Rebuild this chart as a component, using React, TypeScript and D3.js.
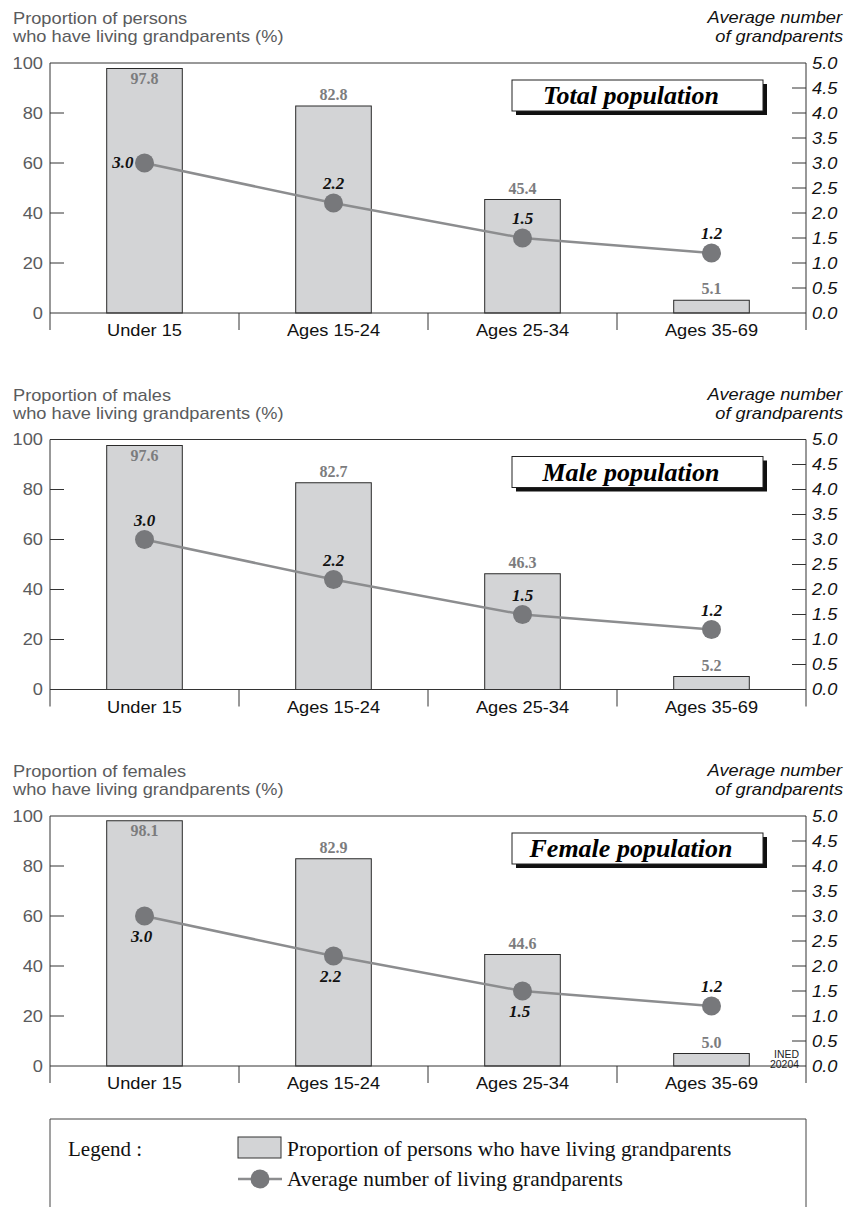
import * as d3 from "d3";

const categories = ["Under 15", "Ages 15-24", "Ages 25-34", "Ages 35-69"];

const totalShare = [97.8, 82.8, 45.4, 5.1];
const totalAvg = [3.0, 2.2, 1.5, 1.2];
const maleShare = [97.6, 82.7, 46.3, 5.2];
const maleAvg = [3.0, 2.2, 1.5, 1.2];
const femaleShare = [98.1, 82.9, 44.6, 5.0];
const femaleAvg = [3.0, 2.2, 1.5, 1.2];

const leftTicks = [0, 20, 40, 60, 80, 100];
const rightTicks = [0, 0.5, 1.0, 1.5, 2.0, 2.5, 3.0, 3.5, 4.0, 4.5, 5.0];

const panelNames = ["Total population", "Male population", "Female population"];
const leftTitles = ["Proportion of persons", "Proportion of males", "Proportion of females"];

const panels = [
  { name: panelNames[0], title: leftTitles[0], share: totalShare, avg: totalAvg, pos: ["left", "above", "above", "above"] },
  { name: panelNames[1], title: leftTitles[1], share: maleShare, avg: maleAvg, pos: ["above", "above", "above", "above"] },
  { name: panelNames[2], title: leftTitles[2], share: femaleShare, avg: femaleAvg, pos: ["below", "below", "below", "above"] },
];

const W = 845;
const H = 1207;
const left = 50;
const right = 806;
const sans = "'Liberation Sans', Arial, Helvetica, sans-serif";
const serif = "'Liberation Serif', 'Times New Roman', Times, serif";

const barFill = "#d3d4d6";
const dotFill = "#77787b";
const lineColor = "#8c8d8f";
const grayText = "#5a5b5d";

// stretched sans text like the original
function SText(props: any) {
  const { x, y, anchor = "start", size = 16, italic = false, fill = "#222", sx = 1.14, children } = props;
  return (
    <text
      transform={`translate(${x},${y}) scale(${sx},1)`}
      textAnchor={anchor}
      fontFamily={sans}
      fontSize={size}
      fontStyle={italic ? "italic" : "normal"}
      fill={fill}
    >
      {children}
    </text>
  );
}

function Panel({ p, offset, last }: { p: any; offset: number; last: boolean }) {
  const top = 63 + offset;
  const bottom = 313 + offset;
  const x = d3.scaleBand<string>().domain(categories).range([left, right]).padding(0);
  const y = d3.scaleLinear().domain([0, 100]).range([bottom, top]);
  const y2 = d3.scaleLinear().domain([0, 5]).range([bottom, top]);
  const bw = x.bandwidth() * 0.4;
  const cx = (c: string) => (x(c) as number) + x.bandwidth() / 2;
  const line = d3
    .line<number>()
    .x((_, i) => cx(categories[i]))
    .y((d) => y2(d));

  return (
    <g>
      {/* axis titles */}
      <SText x={13} y={offset + 24} fill={grayText}>{p.title}</SText>
      <SText x={13} y={offset + 42} fill={grayText}>who have living grandparents (%)</SText>
      <SText x={842} y={offset + 23} anchor="end" italic fill="#111">Average number</SText>
      <SText x={843} y={offset + 42} anchor="end" italic fill="#111">of grandparents</SText>

      {/* frame */}
      <line x1={left} x2={right} y1={top} y2={top} stroke="#333" strokeWidth={1} />
      <line x1={left} x2={left} y1={top} y2={bottom + 17} stroke="#333" strokeWidth={1} />
      <line x1={right} x2={right} y1={top} y2={bottom + 17} stroke="#333" strokeWidth={1} />

      {/* left ticks */}
      {leftTicks.map((t) => (
        <g key={"l" + t}>
          {t > 0 && t < 100 && (
            <line x1={left} x2={left + 14} y1={y(t)} y2={y(t)} stroke="#333" strokeWidth={1} />
          )}
          <SText x={43} y={y(t) + 5.5} anchor="end" fill={grayText}>{t}</SText>
        </g>
      ))}

      {/* right ticks */}
      {rightTicks.map((t) => (
        <g key={"r" + t}>
          {t > 0 && t < 5 && (
            <line x1={right - 14} x2={right} y1={y2(t)} y2={y2(t)} stroke="#333" strokeWidth={1} />
          )}
          <SText x={812} y={y2(t) + 5.5} italic fill="#111">{t.toFixed(1)}</SText>
        </g>
      ))}

      {/* bars */}
      {p.share.map((v: number, i: number) => {
        const c = categories[i];
        const inside = v > 95;
        return (
          <g key={"b" + i}>
            <rect
              x={cx(c) - bw / 2}
              y={y(v)}
              width={bw}
              height={bottom - y(v)}
              fill={barFill}
              stroke="#2a2a2a"
              strokeWidth={1}
            />
            <text
              x={cx(c)}
              y={inside ? y(v) + 15 : y(v) - 6}
              textAnchor="middle"
              fontFamily={serif}
              fontWeight="bold"
              fontSize={16}
              fill="#7c7c7e"
            >
              {v.toFixed(1)}
            </text>
          </g>
        );
      })}

      {/* x axis */}
      <line x1={left} x2={right} y1={bottom} y2={bottom} stroke="#333" strokeWidth={1} />
      {x.domain().slice(1).map((c) => (
        <line key={"s" + c} x1={x(c)} x2={x(c)} y1={bottom} y2={bottom + 17} stroke="#333" strokeWidth={1} />
      ))}
      {categories.map((c) => (
        <SText key={"c" + c} x={cx(c)} y={bottom + 23} anchor="middle" fill="#111">{c}</SText>
      ))}

      {/* line + dots */}
      <path d={line(p.avg) || ""} fill="none" stroke={lineColor} strokeWidth={2.5} />
      {p.avg.map((v: number, i: number) => {
        const px = cx(categories[i]);
        const py = y2(v);
        const pos = p.pos[i];
        let lx = px;
        let ly = py - 14;
        let anchor = "middle";
        if (pos === "left") {
          lx = px - 11;
          ly = py + 5;
          anchor = "end";
        } else if (pos === "below") {
          lx = px - 3;
          ly = py + 26;
        }
        return (
          <g key={"d" + i}>
            <circle cx={px} cy={py} r={9.5} fill={dotFill} />
            <text
              x={lx}
              y={ly}
              textAnchor={anchor}
              fontFamily={serif}
              fontWeight="bold"
              fontStyle="italic"
              fontSize={17}
              fill="#111"
            >
              {v.toFixed(1)}
            </text>
          </g>
        );
      })}

      {/* title box */}
      <rect x={516} y={top + 21} width={251} height={31} fill="#111" />
      <rect x={512} y={top + 17} width={251} height={31} fill="#fff" stroke="#222" strokeWidth={1} />
      <text
        x={631}
        y={top + 41}
        textAnchor="middle"
        fontFamily={serif}
        fontWeight="bold"
        fontStyle="italic"
        fontSize={26}
        fill="#000"
      >
        {p.name}
      </text>

      {last && (
        <g>
          <SText x={799} y={bottom - 8} anchor="end" size={11} sx={0.95} fill="#222">INED</SText>
          <SText x={799} y={bottom + 2} anchor="end" size={11} sx={0.95} fill="#222">20204</SText>
        </g>
      )}
    </g>
  );
}

export default function App() {
  return (
    <div style={{ position: "absolute", left: 0, top: 0 }}>
      <svg width={W} height={H} viewBox={`0 0 ${W} ${H}`} style={{ display: "block", background: "#fff" }}>
        {panels.map((p, i) => (
          <Panel key={p.name} p={p} offset={i * 376.5} last={i === panels.length - 1} />
        ))}

        {/* legend */}
        <path d={`M${left},${H + 2} V1119 H${right} V${H + 2}`} fill="none" stroke="#444" strokeWidth={1} />
        <text x={68} y={1156} fontFamily={serif} fontSize={21} fill="#111">Legend :</text>
        <rect x={238} y={1137} width={43} height={21} fill={barFill} stroke="#333" strokeWidth={1} />
        <text x={287} y={1156} fontFamily={serif} fontSize={21.4} fill="#111">
          Proportion of persons who have living grandparents
        </text>
        <line x1={238} x2={282} y1={1179} y2={1179} stroke={lineColor} strokeWidth={2.5} />
        <circle cx={260} cy={1179} r={9.5} fill={dotFill} />
        <text x={287} y={1186} fontFamily={serif} fontSize={21.4} fill="#111">
          Average number of living grandparents
        </text>
      </svg>
    </div>
  );
}
